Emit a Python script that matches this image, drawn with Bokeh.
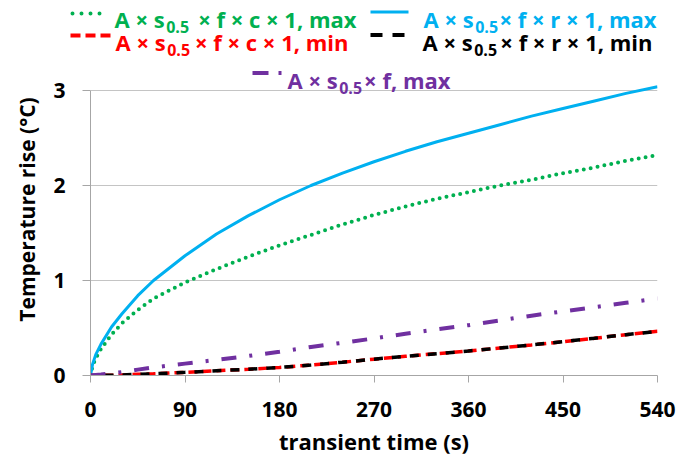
from math import pi
from bokeh.plotting import figure
from bokeh.models import Range1d, FixedTicker, Label, Arrow
from bokeh.layouts import column, row
from bokeh.embed import file_html
from bokeh.resources import INLINE

# ---------------- data ----------------
time_s = [0, 2, 5, 10, 20, 30, 45, 60, 90, 120, 150, 180, 210, 240, 270,
          300, 330, 360, 390, 420, 450, 480, 510, 540]
rise_c_max = [0, 0.10, 0.18, 0.28, 0.43, 0.55, 0.69, 0.81, 0.98, 1.12, 1.25, 1.37,
              1.48, 1.59, 1.69, 1.78, 1.86, 1.93, 2.00, 2.06, 2.13, 2.19, 2.26, 2.32]
rise_r_max = [0, 0.12, 0.22, 0.33, 0.51, 0.65, 0.84, 1.00, 1.26, 1.49, 1.68, 1.85,
              2.00, 2.13, 2.25, 2.36, 2.46, 2.55, 2.64, 2.73, 2.81, 2.89, 2.97, 3.04]
rise_c_min = [0, 0, 0, 0.001, 0.003, 0.006, 0.012, 0.018, 0.033, 0.05, 0.066, 0.085,
              0.11, 0.14, 0.172, 0.202, 0.23, 0.258, 0.29, 0.322, 0.356, 0.392, 0.43, 0.465]
rise_r_min = [0, 0, 0, 0.001, 0.003, 0.006, 0.012, 0.018, 0.033, 0.05, 0.066, 0.085,
              0.11, 0.14, 0.172, 0.202, 0.23, 0.258, 0.29, 0.322, 0.356, 0.392, 0.43, 0.465]
rise_f_max = [0, 0.002, 0.005, 0.01, 0.022, 0.036, 0.062, 0.085, 0.125, 0.165, 0.205, 0.25,
              0.30, 0.345, 0.39, 0.44, 0.485, 0.53, 0.58, 0.63, 0.675, 0.72, 0.765, 0.81]

x_ticks = [0, 90, 180, 270, 360, 450, 540]
y_ticks = [0, 1, 2, 3]

legend_prefix = ["A × s", "A × s", "A × s", "A × s", "A × s"]
legend_sub = ["0.5", "0.5", "0.5", "0.5", "0.5"]
legend_suffix = ["× f × c × 1, max", "× f × r × 1, max", "× f × c × 1, min",
                 "× f × r × 1, min", "× f, max"]
x_title = "transient time (s)"
y_title = "Temperature rise (°C)"

# ---------------- styles / layout (page px) ----------------
GREEN, BLUE, RED, BLACK, PURPLE = "#00B050", "#00B0F0", "#FF0000", "#000000", "#7030A0"
FONT = "Open Sans"
MAIN_PX, SUB_PX, SUB_DROP = 22, 16, 8
TOTAL_W, TOTAL_H = 685, 465
LEG_H = 62            # legend strip for rows 1-2
TITLE_W = 50          # y-title strip
FRAME_L, FRAME_R, FRAME_B = 90, 657, 375
Y3_PAGE = 90          # page y of value 3
FRAME_T = LEG_H       # frame top (page)
Y_END = 3.0 * (FRAME_B - FRAME_T) / (FRAME_B - Y3_PAGE)


def blank(w, h, **kw):
    f = figure(width=w, height=h, output_backend="svg", toolbar_location=None,
               x_range=Range1d(0, w), y_range=Range1d(0, h),
               x_axis_location=None, y_axis_location=None, **kw)
    f.grid.visible = False
    f.outline_line_color = None
    f.background_fill_color = "white"
    f.border_fill_color = "white"
    return f


# ---------------- main plot ----------------
main_w = TOTAL_W - TITLE_W
main_h = TOTAL_H - LEG_H
p = figure(width=main_w, height=main_h, output_backend="svg", toolbar_location=None,
           x_range=Range1d(0, 540), y_range=Range1d(0, Y_END),
           min_border_left=FRAME_L - TITLE_W, min_border_right=TOTAL_W - FRAME_R,
           min_border_top=FRAME_T - LEG_H, min_border_bottom=TOTAL_H - FRAME_B)
p.outline_line_color = None
p.background_fill_color = "white"
p.border_fill_color = "white"

for ax, ticks in ((p.xaxis[0], x_ticks), (p.yaxis[0], y_ticks)):
    ax.ticker = FixedTicker(ticks=ticks)
    ax.axis_line_color = "#A6A6A6"
    ax.major_tick_line_color = "#A6A6A6"
    ax.minor_tick_line_color = None
    ax.major_tick_in = 0
    ax.major_label_text_font = FONT
    ax.major_label_text_font_style = "bold"
    ax.major_label_text_font_size = "21px"
    ax.major_label_text_color = "black"
p.xaxis.bounds = (0, 540)
p.yaxis.bounds = (0, 3)
p.xaxis.major_tick_out = 7
p.yaxis.major_tick_out = 8
p.xaxis.major_label_standoff = 19
p.yaxis.major_label_standoff = 17
p.xaxis.axis_label = x_title
p.xaxis.axis_label_text_font = FONT
p.xaxis.axis_label_text_font_style = "bold"
p.xaxis.axis_label_text_font_size = "22px"
p.xaxis.axis_label_text_color = "black"
p.xaxis.axis_label_standoff = 6

p.xgrid.visible = False
p.ygrid.ticker = FixedTicker(ticks=y_ticks)
p.ygrid.grid_line_color = "#C4C4C4"
p.ygrid.grid_line_width = 1

p.line(time_s, rise_c_max, line_color=GREEN, line_width=4, line_dash="0 7", line_cap="round")
p.line(time_s, rise_r_max, line_color=BLUE, line_width=3)
p.line(time_s, rise_c_min, line_color=RED, line_width=3.5, line_dash="9 5")
p.line(time_s, rise_r_min, line_color=BLACK, line_width=3.5, line_dash="9 9", line_dash_offset=4)
p.line(time_s, rise_f_max, line_color=PURPLE, line_width=4, line_dash="15 13 3 13")

# ---------------- y title strip (frame aligned with main frame) ----------------
yt = blank(TITLE_W, main_h, min_border_left=0, min_border_right=0,
           min_border_top=FRAME_T - LEG_H, min_border_bottom=TOTAL_H - FRAME_B)
yt.add_layout(Label(x=26, y=FRAME_B - 209, x_units="screen", y_units="screen", text=y_title,
                    angle=pi / 2, text_align="center", text_baseline="middle",
                    text_font=FONT, text_font_style="bold", text_font_size="21px",
                    text_color="black"))

# ---------------- legend strip (rows 1-2) ----------------
lg = blank(TOTAL_W, LEG_H, min_border_left=0, min_border_right=0,
           min_border_top=0, min_border_bottom=0)

W = {' ': 532, 'A': 1479, '×': 1171, 's': 1003}


def tw(s, size):
    return sum(W.get(ch, 1150) for ch in s) / 2048.0 * size


# (text start x, text end x, baseline y, sample x0, x1, sample y, color, dash, width, cap)
entries = [
    (114, 356, 18.0, 72, 100, 13.0, GREEN, "0 9", 4, "round"),
    (423, 656, 18.0, 370, 408, 11.5, BLUE, "solid", 3, "butt"),
    (115, 348, 41.0, 70, 110, 35.0, RED, "10 5", 4, "butt"),
    (422, 652, 41.0, 370, 404, 34.5, BLACK, "12 10", 4, "butt"),
    (287, 450, 79.0, 252, 282, 72.5, PURPLE, "16 10 3 10", 4, "butt"),
]
for i, (tx, ex, by, sx0, sx1, sy, col, dash, lw, cap) in enumerate(entries):
    if by < LEG_H:       # rows in the legend strip
        fig, ox, oy = lg, 0, LEG_H
    else:                # last row sits inside the main frame's empty top
        fig, ox, oy = p, FRAME_L, FRAME_B
    fig.add_layout(Arrow(x_start=sx0 - ox, y_start=oy - sy, x_end=sx1 - ox, y_end=oy - sy,
                         start_units="screen", end_units="screen", start=None, end=None,
                         line_color=col, line_width=lw, line_dash=dash, line_cap=cap))
    x_sub = tx + tw(legend_prefix[i], MAIN_PX) + 1
    common = dict(x_units="screen", y_units="screen", text_font=FONT,
                  text_font_style="bold", text_color=col, text_baseline="alphabetic")
    fig.add_layout(Label(x=tx - ox, y=oy - by, text=legend_prefix[i], text_align="left",
                         text_font_size=f"{MAIN_PX}px", **common))
    fig.add_layout(Label(x=x_sub - ox, y=oy - by - SUB_DROP, text=legend_sub[i],
                         text_align="left", text_font_size=f"{SUB_PX}px", **common))
    fig.add_layout(Label(x=ex - ox, y=oy - by, text=legend_suffix[i], text_align="right",
                         text_font_size=f"{MAIN_PX}px", **common))

layout = column(lg, row(yt, p, spacing=0), spacing=0)
open("out.html", "w").write(file_html(layout, INLINE))
